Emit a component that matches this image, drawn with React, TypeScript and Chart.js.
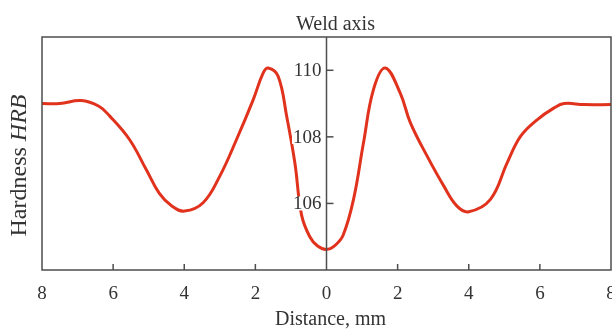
import React, { useEffect, useRef } from "react";
import { Chart, registerables } from "chart.js";

Chart.register(...registerables);

const distance = [-8, -7.5, -6.9, -6.4, -6.1, -5.54, -5.07, -4.7, -4.35, -3.99, -3.47, -3.0, -2.53, -2.06, -1.78, -1.64, -1.36, -1.12, -0.89, -0.7, -0.47, -0.25, 0, 0.25, 0.47, 0.76, 1.04, 1.32, 1.65, 2.07, 2.36, 2.83, 3.3, 3.67, 4.0, 4.61, 5.08, 5.46, 5.93, 6.4, 6.68, 7.24, 8];
const hardness = [109.0, 109.0, 109.09, 108.92, 108.63, 107.92, 107.02, 106.3, 105.92, 105.77, 106.02, 106.82, 107.92, 109.12, 109.92, 110.07, 109.82, 108.62, 107.22, 105.65, 105.0, 104.72, 104.62, 104.75, 105.05, 106.12, 107.82, 109.42, 110.07, 109.32, 108.42, 107.42, 106.52, 105.92, 105.75, 106.12, 107.22, 108.02, 108.52, 108.87, 109.0, 108.97, 108.97];
const xTickValues = [-8, -6, -4, -2, 0, 2, 4, 6, 8];
const yTickValues = [106, 108, 110];
const titleTop = "Weld axis";
const titleBottom = "Distance, mm";
const yLabelNormal = "Hardness ";
const yLabelItalic = "HRB";

const FONT = '"Liberation Serif", "DejaVu Serif", serif';
const AXIS_COLOR = "#4d4d4d";
const TEXT_COLOR = "#333333";

const decorPlugin = {
  id: "decor",
  afterDatasetsDraw(chart: any) {
    const { ctx, chartArea } = chart;
    const xs = chart.scales.x;
    const ys = chart.scales.y;
    const { left, right, top, bottom } = chartArea;
    ctx.save();
    ctx.strokeStyle = AXIS_COLOR;
    ctx.lineWidth = 1.5;
    ctx.strokeRect(left, top, right - left, bottom - top);
    const x0 = xs.getPixelForValue(0);
    ctx.beginPath();
    ctx.moveTo(x0, top);
    ctx.lineTo(x0, bottom);
    ctx.stroke();
    xs.ticks.forEach((t: any) => {
      if (t.value === 0 || t.value === xs.min || t.value === xs.max) return;
      const px = xs.getPixelForValue(t.value);
      ctx.beginPath();
      ctx.moveTo(px, bottom);
      ctx.lineTo(px, bottom - 6);
      ctx.stroke();
    });
    ctx.fillStyle = TEXT_COLOR;
    ctx.font = `19px ${FONT}`;
    ctx.textAlign = "center";
    ctx.textBaseline = "alphabetic";
    xs.ticks.forEach((t: any) => {
      const px = xs.getPixelForValue(t.value);
      ctx.fillText(String(Math.abs(t.value)), px, bottom + 29);
    });
    ys.ticks.forEach((t: any) => {
      const py = ys.getPixelForValue(t.value);
      ctx.beginPath();
      ctx.moveTo(x0, py);
      ctx.lineTo(x0 + 7, py);
      ctx.stroke();
      const label = String(t.value);
      const w = ctx.measureText(label).width;
      ctx.fillStyle = "#ffffff";
      ctx.fillRect(x0 - 5 - w - 1, py - 7, w + 2, 14);
      ctx.fillStyle = TEXT_COLOR;
      ctx.textAlign = "right";
      ctx.textBaseline = "middle";
      ctx.fillText(label, x0 - 5, py + 1);
    });
    ctx.textAlign = "center";
    ctx.textBaseline = "alphabetic";
    ctx.font = `20px ${FONT}`;
    ctx.fillText(titleTop, x0 + 9, 30);
    ctx.fillText(titleBottom, x0 + 4, 325);
    ctx.translate(26, (top + bottom) / 2 + 12);
    ctx.rotate(-Math.PI / 2);
    ctx.font = `24px ${FONT}`;
    const w1 = ctx.measureText(yLabelNormal).width;
    ctx.font = `italic 24px ${FONT}`;
    const w2 = ctx.measureText(yLabelItalic).width;
    const start = -(w1 + w2) / 2;
    ctx.textAlign = "left";
    ctx.font = `24px ${FONT}`;
    ctx.fillText(yLabelNormal, start, 0);
    ctx.font = `italic 24px ${FONT}`;
    ctx.fillText(yLabelItalic, start + w1, 0);
    ctx.restore();
  },
};

export default function App() {
  const ref = useRef<HTMLCanvasElement | null>(null);
  useEffect(() => {
    if (!ref.current) return;
    const chart = new Chart(ref.current, {
      type: "line",
      data: {
        datasets: [
          {
            data: distance.map((d, i) => ({ x: d, y: hardness[i] })),
            borderColor: "#e0321c",
            borderWidth: 3,
            pointRadius: 0,
            tension: 0.4,
            fill: false,
          },
        ],
      },
      options: {
        animation: false,
        responsive: false,
        layout: { padding: { left: 42, right: 1, top: 37, bottom: 59 } },
        plugins: { legend: { display: false }, tooltip: { enabled: false }, title: { display: false } },
        scales: {
          x: {
            type: "linear",
            display: false,
            min: -8,
            max: 8,
            afterBuildTicks: (s: any) => {
              s.ticks = xTickValues.map((v) => ({ value: v }));
            },
          },
          y: {
            type: "linear",
            display: false,
            min: 104,
            max: 111,
            afterBuildTicks: (s: any) => {
              s.ticks = yTickValues.map((v) => ({ value: v }));
            },
          },
        },
      },
      plugins: [decorPlugin],
    });
    return () => chart.destroy();
  }, []);
  return (
    <div style={{ position: "fixed", left: 0, top: 0, width: 612, height: 329, background: "#fff" }}>
      <canvas ref={ref} width={612} height={329} />
    </div>
  );
}
